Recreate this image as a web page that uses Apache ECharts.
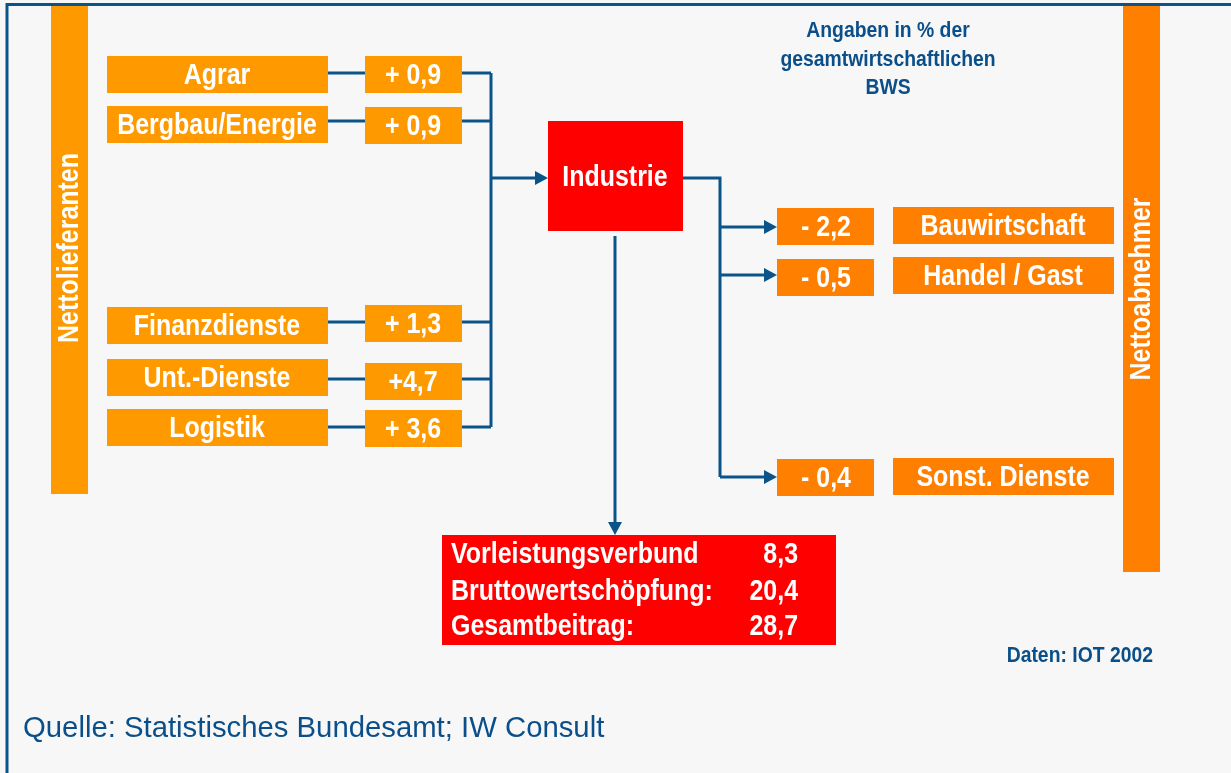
<!DOCTYPE html>
<html>
<head>
<meta charset="utf-8">
<script src="https://cdn.jsdelivr.net/npm/echarts@6/dist/echarts.min.js"></script>
<style>
  html, body { margin: 0; padding: 0; background: #f7f7f7; }
  #chart { width: 1231px; height: 773px; }
</style>
</head>
<body>
<div id="chart"></div>
<script>
  // Nettolieferanten -> Industrie -> Nettoabnehmer (Angaben in % der BWS)
  const supplierNames = ['Agrar', 'Bergbau/Energie', 'Finanzdienste', 'Unt.-Dienste', 'Logistik'];
  const supplierValues = [0.9, 0.9, 1.3, 4.7, 3.6];
  const customerNames = ['Bauwirtschaft', 'Handel / Gast', 'Sonst. Dienste'];
  const customerValues = [-2.2, -0.5, -0.4];
  const summaryLabels = ['Vorleistungsverbund', 'Bruttowertschöpfung:', 'Gesamtbeitrag:'];
  const summaryValues = [8.3, 20.4, 28.7];

  // layout (pixel rows of the diagram)
  const supplierNameTop = [56, 106, 307, 359, 409];
  const supplierValueTop = [56, 107, 305, 363, 410];
  const supplierLineY = [73, 121, 322, 379, 427];
  const supplierSignGap = [' ', ' ', ' ', '', ' ']; // the original writes "+4,7" without a space
  const customerValueTop = [208, 259, 459];
  const customerNameTop = [207, 257, 458];
  const customerLineY = [227, 275, 477];
  const summaryLineY = [555, 592, 627];

  const BLUE = '#0b5489';
  const ORANGE_L = '#ff9900';
  const ORANGE_R = '#ff7f00';
  const RED = '#ff0000';
  const BOX_H = 37;
  const BOLD = 'bold 29px "Liberation Sans", Arial, sans-serif';

  const fmt = (v) => Math.abs(v).toFixed(1).replace('.', ',');
  const signed = (v, gap) => (v > 0 ? '+' : '-') + (gap === undefined ? ' ' : gap) + fmt(v);

  function box(x, y, w, h, color) {
    return { type: 'rect', shape: { x: x, y: y, width: w, height: h }, style: { fill: color } };
  }
  function label(text, x, y, opts) {
    opts = opts || {};
    return {
      type: 'text',
      x: x,
      y: y,
      rotation: opts.rotation || 0,
      scaleX: opts.scaleX || 0.86,
      z: 10,
      style: {
        text: text,
        x: 0,
        y: 0,
        fill: opts.color || '#ffffff',
        font: opts.font || BOLD,
        align: opts.align || 'center',
        textAlign: opts.align || 'center',
        verticalAlign: 'middle',
        textVerticalAlign: 'middle'
      }
    };
  }
  function line(points) {
    return { type: 'polyline', shape: { points: points }, style: { stroke: BLUE, lineWidth: 3, fill: null } };
  }
  function arrowRight(x, y) {
    return { type: 'polygon', shape: { points: [[x, y], [x - 13, y - 7], [x - 13, y + 7]] }, style: { fill: BLUE } };
  }
  function arrowDown(x, y) {
    return { type: 'polygon', shape: { points: [[x, y], [x - 7, y - 13], [x + 7, y - 13]] }, style: { fill: BLUE } };
  }

  const g = [];
  // frame
  g.push(line([[7, 773], [7, 4.5], [1231, 4.5]]));

  // side bars
  g.push(box(51, 6, 37, 488, ORANGE_L));
  g.push(label('Nettolieferanten', 70, 248, { rotation: Math.PI / 2 }));
  g.push(box(1123, 6, 37, 566, ORANGE_R));
  g.push(label('Nettoabnehmer', 1142, 289, { rotation: Math.PI / 2 }));

  // suppliers
  supplierNames.forEach(function (name, i) {
    g.push(line([[328, supplierLineY[i]], [365, supplierLineY[i]]]));
    g.push(line([[462, supplierLineY[i]], [491, supplierLineY[i]]]));
    g.push(box(107, supplierNameTop[i], 221, BOX_H, ORANGE_L));
    g.push(label(name, 217, supplierNameTop[i] + BOX_H / 2 + 1.5));
    g.push(box(365, supplierValueTop[i], 97, BOX_H, ORANGE_L));
    g.push(label(signed(supplierValues[i], supplierSignGap[i]), 413, supplierValueTop[i] + BOX_H / 2 + 1.5));
  });
  g.push(line([[491, supplierLineY[0]], [491, supplierLineY[supplierLineY.length - 1]]]));
  g.push(line([[491, 178], [538, 178]]));
  g.push(arrowRight(548, 178));

  // Industrie
  g.push(box(548, 121, 135, 110, RED));
  g.push(label('Industrie', 615, 178));

  // customers
  g.push(line([[683, 178], [720, 178], [720, customerLineY[customerLineY.length - 1]]]));
  customerNames.forEach(function (name, i) {
    g.push(line([[720, customerLineY[i]], [767, customerLineY[i]]]));
    g.push(arrowRight(777, customerLineY[i]));
    g.push(box(777, customerValueTop[i], 97, BOX_H, ORANGE_R));
    g.push(label(signed(customerValues[i]), 826, customerValueTop[i] + BOX_H / 2 + 1));
    g.push(box(893, customerNameTop[i], 221, BOX_H, ORANGE_R));
    g.push(label(name, 1003, customerNameTop[i] + BOX_H / 2 + 1));
  });

  // summary
  g.push(line([[615, 236], [615, 525]]));
  g.push(arrowDown(615, 535));
  g.push(box(442, 535, 394, 110, RED));
  summaryLabels.forEach(function (name, i) {
    g.push(label(name, 451, summaryLineY[i], { align: 'left' }));
    g.push(label(fmt(summaryValues[i]), 798, summaryLineY[i], { align: 'right' }));
  });

  // notes
  const noteFont = 'bold 22px "Liberation Sans", Arial, sans-serif';
  ['Angaben in % der', 'gesamtwirtschaftlichen', 'BWS'].forEach(function (t, i) {
    g.push(label(t, 888, 31 + i * 28.5, { font: noteFont, color: '#0b4f8a', scaleX: 0.88 }));
  });
  g.push(label('Daten: IOT 2002', 1153, 656, { font: noteFont, color: '#0b4f8a', scaleX: 0.88, align: 'right' }));
  g.push(label('Quelle: Statistisches Bundesamt; IW Consult', 23, 729, {
    font: '29.3px "Liberation Sans", Arial, sans-serif', color: '#0b4f8a', scaleX: 1, align: 'left'
  }));

  const chart = echarts.init(document.getElementById('chart'));
  chart.setOption({
    backgroundColor: '#f7f7f7',
    animation: false,
    graphic: { elements: g }
  });
</script>
</body>
</html>
